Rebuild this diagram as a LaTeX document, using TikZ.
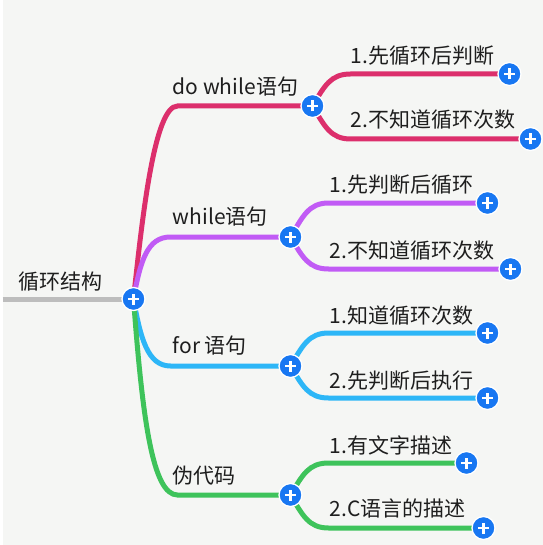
\documentclass[tikz,border=0pt]{standalone}
\usepackage{fontspec}
\setmainfont{Noto Sans CJK SC}
\usepackage{xcolor}
\usepackage{tikz}
\usetikzlibrary{positioning}

\definecolor{paper}{HTML}{F5F6F4}
\definecolor{ink}{HTML}{1E1E1E}
\definecolor{rootgray}{HTML}{BDBDBD}
\definecolor{hubblue}{HTML}{1877F2}
\definecolor{dwred}{HTML}{DC2F6C}
\definecolor{whpurple}{HTML}{C15BF5}
\definecolor{forblue}{HTML}{2DB6F7}
\definecolor{codegreen}{HTML}{3EC35B}

\pgfdeclarelayer{edges}
\pgfsetlayers{edges,main}

\begin{document}
\begin{tikzpicture}[
        x=1pt, y=-1pt,
        every node/.style={font=\fontsize{21}{24}\selectfont, text=ink},
        hub/.style={circle, fill=hubblue, draw=white, line width=1.3pt, minimum size=23pt, inner sep=0pt,
            path picture={\draw[white, line width=2.6pt]
                ([xshift=-5.5pt]path picture bounding box.center) -- ([xshift=5.5pt]path picture bounding box.center)
                ([yshift=-5.5pt]path picture bounding box.center) -- ([yshift=5.5pt]path picture bounding box.center);}},
        topic/.style={anchor=base west, inner sep=0pt},
        limb/.style={line width=5pt, line cap=round}
        ]
        \begin{pgfonlayer}{edges}
            \fill[paper] (0,0) rectangle (540,545);
        \end{pgfonlayer}

        % Nodes
        \node[hub] (root) at (131,299) {};
        \node[hub] (dw) at (310,106) {};
        \node[hub] (dw1) at (507,74) {};
        \node[hub] (dw2) at (528,139) {};
        \node[hub] (wh) at (288,237) {};
        \node[hub] (wh1) at (485,203) {};
        \node[hub] (wh2) at (508,269) {};
        \node[hub] (fr) at (288,366) {};
        \node[hub] (fr1) at (485,333) {};
        \node[hub] (fr2) at (485,398) {};
        \node[hub] (cd) at (288,495) {};
        \node[hub] (cd1) at (464,463) {};
        \node[hub] (cd2) at (481,528) {};

        % Labels
        \node[topic] (rootlbl) at (16,289) {循环结构};
        \node[topic] (dwlbl) at (170,95) {do while语句};
        \node[topic] (dw1lbl) at (348,64) {1.先循环后判断};
        \node[topic] (dw2lbl) at (348,128) {2.不知道循环次数};
        \node[topic] (whlbl) at (170,224) {while语句};
        \node[topic] (wh1lbl) at (327,193) {1.先判断后循环};
        \node[topic] (wh2lbl) at (327,258) {2.不知道循环次数};
        \node[topic] (frlbl) at (170,353) {for 语句};
        \node[topic] (fr1lbl) at (327,323) {1.知道循环次数};
        \node[topic] (fr2lbl) at (327,388) {2.先判断后执行};
        \node[topic] (cdlbl) at (170,483) {伪代码};
        \node[topic] (cd1lbl) at (327,453) {1.有文字描述};
        \node[topic] (cd2lbl) at (327,516) {2.C语言的描述};

        % Bend points
        \coordinate (rootin) at (0,299);
        \coordinate (dwin) at (175,106);
        \coordinate (whin) at (168,237);
        \coordinate (frin) at (168,366);
        \coordinate (cdin) at (175,495);
        \coordinate (dw1in) at (348,74);
        \coordinate (dw2in) at (348,139);
        \coordinate (wh1in) at (326,203);
        \coordinate (wh2in) at (326,269);
        \coordinate (fr1in) at (326,333);
        \coordinate (fr2in) at (326,398);
        \coordinate (cd1in) at (326,463);
        \coordinate (cd2in) at (326,528);

        % Branches
        \begin{pgfonlayer}{edges}
            \draw[limb, rootgray, line cap=butt] (rootin) -- (root.center);
            \draw[limb, forblue] (root.center) .. controls +(7,39) and +(-23,0) .. (frin) -- (fr.center);
            \draw[limb, codegreen] (root.center) .. controls +(9,120) and +(-25,0) .. (cdin) -- (cd.center);
            \draw[limb, dwred] (root.center) .. controls +(9,-84) and +(-23,0) .. (dwin) -- (dw.center);
            \draw[limb, whpurple] (root.center) .. controls +(7,-39) and +(-23,0) .. (whin) -- (wh.center);

            \draw[limb, dwred] (dw.center) .. controls +(12,-20) and +(-20,0) .. (dw1in) -- (dw1.center);
            \draw[limb, dwred] (dw.center) .. controls +(12,20) and +(-20,0) .. (dw2in) -- (dw2.center);
            \draw[limb, whpurple] (wh.center) .. controls +(12,-20) and +(-20,0) .. (wh1in) -- (wh1.center);
            \draw[limb, whpurple] (wh.center) .. controls +(12,20) and +(-20,0) .. (wh2in) -- (wh2.center);
            \draw[limb, forblue] (fr.center) .. controls +(12,-20) and +(-20,0) .. (fr1in) -- (fr1.center);
            \draw[limb, forblue] (fr.center) .. controls +(12,20) and +(-20,0) .. (fr2in) -- (fr2.center);
            \draw[limb, codegreen] (cd.center) .. controls +(12,-20) and +(-20,0) .. (cd1in) -- (cd1.center);
            \draw[limb, codegreen] (cd.center) .. controls +(12,20) and +(-20,0) .. (cd2in) -- (cd2.center);
        \end{pgfonlayer}
    \end{tikzpicture}
\end{document}
